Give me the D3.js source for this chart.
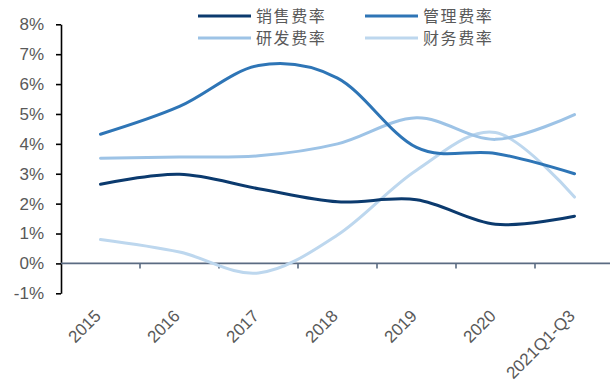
<!DOCTYPE html>
<html>
<head>
<meta charset="utf-8">
<script src="https://cdn.jsdelivr.net/npm/d3@7/dist/d3.min.js"></script>
<style>
  html, body { margin: 0; padding: 0; background: #fff; }
  svg { display: block; }
</style>
</head>
<body>
<svg id="chart" width="610" height="380"></svg>
<script>
// Expense ratios by year (%)
const years = ["2015", "2016", "2017", "2018", "2019", "2020", "2021Q1-Q3"];
const sellingRate = [2.65, 2.98, 2.50, 2.06, 2.13, 1.31, 1.58];
const adminRate   = [4.32, 5.25, 6.62, 6.20, 3.88, 3.68, 3.00];
const rndRate     = [3.52, 3.56, 3.60, 4.00, 4.87, 4.15, 4.98];
const financeRate = [0.80, 0.38, -0.32, 0.95, 3.12, 4.38, 2.22];
const yTicks = [-1, 0, 1, 2, 3, 4, 5, 6, 7, 8];
const seriesNames = ["销售费率", "管理费率", "研发费率", "财务费率"];
const seriesColors = ["#0b3a6e", "#2e75b6", "#9dc3e6", "#bdd7ee"];

const series = [sellingRate, adminRate, rndRate, financeRate].map((vals, i) => ({
  name: seriesNames[i],
  color: seriesColors[i],
  values: vals
}));

const svg = d3.select("#chart");
const labelFont = "'Liberation Sans', Arial, sans-serif";
const textColor = "#595959";

const x = d3.scaleBand().domain(years).range([61, 614]);
const y = d3.scaleLinear().domain([-1, 8]).range([293.3, 24.3]);
const cx = d => x(d) + x.bandwidth() / 2;

// Y axis
const yAxis = svg.append("g")
  .attr("transform", "translate(61,0)")
  .call(d3.axisLeft(y).tickValues(yTicks).tickSize(5).tickSizeOuter(0).tickPadding(12)
    .tickFormat(d => d + "%"));
yAxis.select(".domain").attr("stroke", "#000").attr("stroke-width", 1.6);
yAxis.selectAll(".tick line").attr("stroke", "#000").attr("stroke-width", 1.6);
yAxis.selectAll(".tick text")
  .attr("fill", textColor)
  .attr("font-family", labelFont)
  .attr("font-size", "17px");

// Zero baseline with category boundary ticks
const zeroY = y(0);
const xAxis = svg.append("g").attr("transform", `translate(0,${zeroY})`);
xAxis.append("line")
  .attr("x1", 61).attr("x2", 614)
  .attr("stroke", "#5b6b82").attr("stroke-width", 1.8);
xAxis.selectAll("line.bound")
  .data(years.slice(1))
  .join("line")
  .attr("class", "bound")
  .attr("x1", d => x(d)).attr("x2", d => x(d))
  .attr("y1", 0).attr("y2", 5)
  .attr("stroke", "#5b6b82").attr("stroke-width", 1.6);

// Rotated category labels
svg.append("g").selectAll("text")
  .data(years)
  .join("text")
  .attr("transform", d => `translate(${cx(d) + 1.5},317) rotate(-45)`)
  .attr("text-anchor", "end")
  .attr("fill", textColor)
  .attr("font-family", labelFont)
  .attr("font-size", "17px")
  .text(d => d);

// Smoothed series lines
const line = d3.line()
  .x((v, i) => cx(years[i]))
  .y(v => y(v))
  .curve(d3.curveCardinal.tension(0));

svg.append("g").selectAll("path")
  .data(series.slice().reverse())
  .join("path")
  .attr("d", s => line(s.values))
  .attr("fill", "none")
  .attr("stroke", s => s.color)
  .attr("stroke-width", 3)
  .attr("stroke-linecap", "round");

// Legend (two rows, two columns)
const legend = svg.append("g");
const legendPos = [[198, 16], [365, 16], [198, 38], [365, 38]];
const items = legend.selectAll("g")
  .data(series)
  .join("g")
  .attr("transform", (s, i) => `translate(${legendPos[i][0]},${legendPos[i][1]})`);
items.append("line")
  .attr("x1", 0).attr("x2", 53)
  .attr("stroke", s => s.color)
  .attr("stroke-width", 3);
items.append("text")
  .attr("x", 58)
  .attr("dy", "0.36em")
  .attr("fill", textColor)
  .attr("font-family", "'Noto Sans CJK SC', sans-serif")
  .attr("font-size", "16px")
  .attr("letter-spacing", "1.6px")
  .text(s => s.name);
</script>
</body>
</html>
